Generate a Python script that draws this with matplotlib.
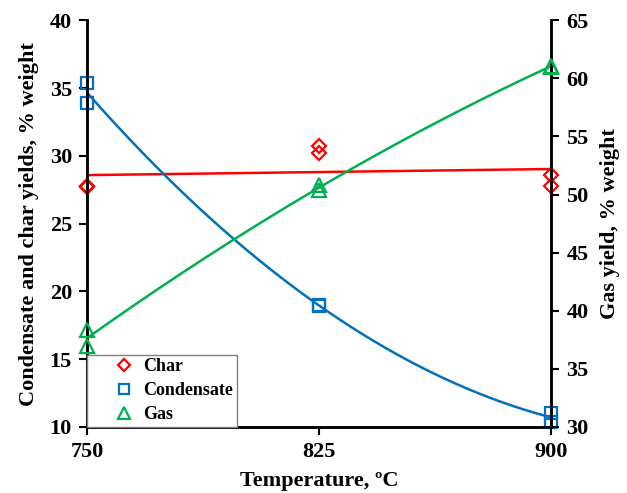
import numpy as np
import matplotlib.pyplot as plt

plt.rcParams['font.family'] = ['Liberation Serif', 'DejaVu Serif']
plt.rcParams['font.weight'] = 'bold'

# data
temp = [750, 750, 825, 825, 900, 900]
char = [27.7, 27.8, 30.7, 30.2, 28.6, 27.8]
condensate = [35.4, 33.9, 19.0, 18.9, 11.0, 10.4]
gas = [38.3, 37.0, 50.8, 50.4, 61.1, 61.0]

red = '#FF0000'
blue = '#0070C0'
green = '#00B050'
fs = 16

fig = plt.figure(figsize=(6.27, 4.93), dpi=100)
ax = fig.add_axes([0.139, 0.134, 0.740, 0.825])
ax2 = ax.twinx()

xs = np.linspace(750, 900, 200)

# trend lines (linear for char, 2nd order for condensate and gas)
ax.plot(xs, np.polyval(np.polyfit(temp, char, 1), xs), color=red, lw=1.8)
ax.plot(xs, np.polyval(np.polyfit(temp, condensate, 2), xs), color=blue, lw=1.8)
ax2.plot(xs, np.polyval(np.polyfit(temp, gas, 2), xs), color=green, lw=1.8)

h1, = ax.plot(temp, char, 'D', ms=7.5, mfc='none', mec=red, mew=1.6,
              clip_on=False, label='Char', zorder=5)
h2, = ax.plot(temp, condensate, 's', ms=9, mfc='none', mec=blue, mew=1.6,
              clip_on=False, label='Condensate', zorder=5)
h3, = ax2.plot(temp, gas, '^', ms=10, mfc='none', mec=green, mew=1.6,
               clip_on=False, label='Gas', zorder=5)

ax.set_xlim(750, 900)
ax.set_ylim(10, 40)
ax2.set_ylim(30, 65)
ax.set_xticks([750, 825, 900])
ax.set_yticks(range(10, 41, 5))
ax2.set_yticks(range(30, 66, 5))

for a in (ax, ax2):
    a.tick_params(labelsize=fs, width=1.5, length=6, direction='out', pad=5)
    for s in a.spines.values():
        s.set_linewidth(1.8)
ax.spines['top'].set_visible(False)
ax2.spines['top'].set_visible(False)

ax.set_xlabel('Temperature, ºC', fontsize=fs, fontweight='bold', labelpad=6)
ax.set_ylabel('Condensate and char yields, % weight', fontsize=fs,
              fontweight='bold', labelpad=8)
ax2.set_ylabel('Gas yield, % weight', fontsize=fs, fontweight='bold',
               labelpad=8)

leg = ax2.legend([h1, h2, h3], ['Char', 'Condensate', 'Gas'], loc='lower left',
                 bbox_to_anchor=(0, 0), borderaxespad=0, fancybox=False,
                 framealpha=1, edgecolor='#808080', fontsize=13,
                 handlelength=3.7, handletextpad=-0.8, borderpad=0.2,
                 labelspacing=0.39, markerscale=0.85)
leg.get_frame().set_linewidth(1)
leg.set_zorder(3)
for t in leg.get_texts():
    t.set_fontweight('bold')

fig.savefig('out.png', dpi=100)
